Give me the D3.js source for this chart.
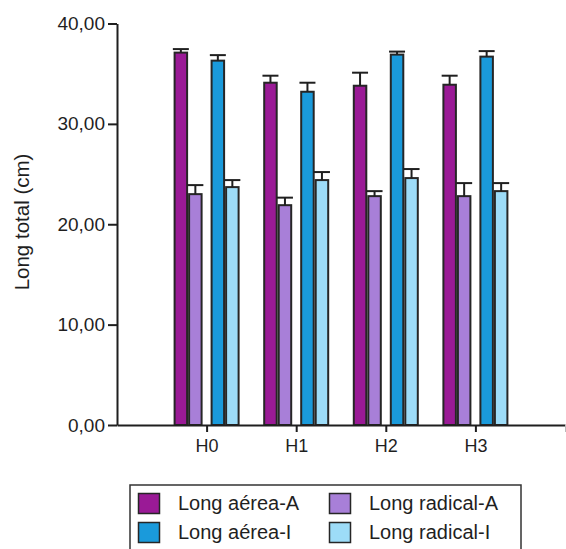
<!DOCTYPE html>
<html>
<head>
<meta charset="utf-8">
<script src="https://cdn.jsdelivr.net/npm/d3@7"></script>
<style>
  html, body { margin: 0; padding: 0; background: #fff; }
  svg { display: block; font-family: "Liberation Sans", Arial, Helvetica, sans-serif; }
</style>
</head>
<body>
<svg id="chart" width="566" height="549"></svg>
<script>
// Treatments along the x axis
const categories = ["H0", "H1", "H2", "H3"];

// Series: mean length (cm) per treatment, with the upper error
const seriesNames = ["Long aérea-A", "Long radical-A", "Long aérea-I", "Long radical-I"];
const aereaA   = [37.1, 34.1, 33.8, 33.9];
const radicalA = [23.0, 21.9, 22.8, 22.8];
const aereaI   = [36.3, 33.2, 36.9, 36.7];
const radicalI = [23.7, 24.4, 24.6, 23.3];

const errAereaA   = [0.35, 0.7, 1.3, 0.9];
const errRadicalA = [0.9, 0.75, 0.5, 1.3];
const errAereaI   = [0.55, 0.9, 0.3, 0.55];
const errRadicalI = [0.7, 0.8, 0.9, 0.8];

const yTicks = [0, 10, 20, 30, 40];

const colors = ["#9a1a96", "#a87fd8", "#1a9adb", "#9ddcf8"];

const values = [aereaA, radicalA, aereaI, radicalI];
const errors = [errAereaA, errRadicalA, errAereaI, errRadicalI];

const rows = [];
categories.forEach((c, ci) => {
  seriesNames.forEach((s, si) => {
    rows.push({ cat: c, ci, si, series: s, value: values[si][ci], err: errors[si][ci] });
  });
});

const svg = d3.select("#chart");
const ink = "#1f1f1f";

// Scales
const y = d3.scaleLinear().domain([0, 40]).range([425, 23.5]);
// categories sit at positions 1..4 of a 0..5 axis
const xPos = d3.scaleLinear().domain([0, categories.length + 1]).range([117, 565]);

// each category holds two pairs (A and I), each pair two adjacent bars
const pairScale = d3.scaleBand().domain([0, 1]).range([-33, 33]).paddingInner(0.216).paddingOuter(0);
const innerScale = d3.scaleBand().domain([0, 1]).range([0, pairScale.bandwidth()]).padding(0);

function barLeft(d) {
  const pair = d.si === 0 || d.si === 1 ? 0 : 1;
  const inner = d.si % 2;
  return xPos(d.ci + 1) + pairScale(pair) + innerScale(inner);
}
const bw = innerScale.bandwidth();

// Bars
svg.append("g").selectAll("rect")
  .data(rows)
  .join("rect")
  .attr("x", d => barLeft(d) + 1)
  .attr("y", d => y(d.value))
  .attr("width", bw - 2)
  .attr("height", d => y(0) - y(d.value))
  .attr("fill", d => colors[d.si])
  .attr("stroke", "#262626")
  .attr("stroke-width", 2);

// Error bars (upper only)
const eb = svg.append("g").attr("stroke", ink).attr("stroke-width", 2).attr("fill", "none");
eb.selectAll("line.v")
  .data(rows)
  .join("line")
  .attr("class", "v")
  .attr("x1", d => barLeft(d) + bw / 2)
  .attr("x2", d => barLeft(d) + bw / 2)
  .attr("y1", d => y(d.value))
  .attr("y2", d => y(d.value + d.err));
eb.selectAll("line.cap")
  .data(rows)
  .join("line")
  .attr("class", "cap")
  .attr("x1", d => barLeft(d) + bw / 2 - 8)
  .attr("x2", d => barLeft(d) + bw / 2 + 8)
  .attr("y1", d => y(d.value + d.err))
  .attr("y2", d => y(d.value + d.err));

// Y axis
const yAxis = d3.axisLeft(y)
  .tickValues(yTicks)
  .tickFormat(v => d3.format(".2f")(v).replace(".", ","))
  .tickSizeInner(9)
  .tickSizeOuter(0)
  .tickPadding(3);
const gy = svg.append("g").attr("transform", "translate(117,0)").call(yAxis);
gy.select(".domain").attr("stroke", ink).attr("stroke-width", 2);
gy.selectAll(".tick line").attr("stroke", ink).attr("stroke-width", 2);
gy.selectAll(".tick text").attr("fill", ink).style("font-size", "19px").attr("font-family", null);

// X axis
const xAxis = d3.axisBottom(xPos)
  .tickValues(d3.range(1, categories.length + 2))
  .tickFormat(v => categories[v - 1] || "")
  .tickSizeInner(7)
  .tickSizeOuter(0)
  .tickPadding(7);
const gx = svg.append("g").attr("transform", "translate(0,425)").call(xAxis);
gx.select(".domain").attr("stroke", ink).attr("stroke-width", 2);
gx.selectAll(".tick line").attr("stroke", ink).attr("stroke-width", 2);
gx.selectAll(".tick").filter(v => v === categories.length + 1).select("line").attr("stroke", "#bbb").attr("stroke-width", 1);
gx.selectAll(".tick text").attr("fill", ink).style("font-size", "18px").attr("font-family", null);

// Y axis title
svg.append("text")
  .attr("transform", "translate(29,222) rotate(-90)")
  .attr("text-anchor", "middle")
  .attr("fill", ink)
  .style("font-size", "20.5px")
  .text("Long total (cm)");

// Legend
const lg = svg.append("g");
lg.append("rect")
  .attr("x", 130).attr("y", 485)
  .attr("width", 391).attr("height", 80)
  .attr("fill", "none")
  .attr("stroke", "#333").attr("stroke-width", 1.5);

const legendPos = [
  { x: 138, y: 493 },
  { x: 329, y: 493 },
  { x: 138, y: 522 },
  { x: 329, y: 522 }
];
const items = lg.selectAll("g.item")
  .data(seriesNames)
  .join("g")
  .attr("class", "item")
  .attr("transform", (d, i) => `translate(${legendPos[i].x},${legendPos[i].y})`);
items.append("rect")
  .attr("x", 0.5).attr("y", 0.5)
  .attr("width", 21).attr("height", 20)
  .attr("fill", (d, i) => colors[i])
  .attr("stroke", "#262626").attr("stroke-width", 1.5);
items.append("text")
  .attr("x", 40).attr("y", 16.5)
  .attr("fill", ink)
  .style("font-size", "20px")
  .text(d => d);
</script>
</body>
</html>
